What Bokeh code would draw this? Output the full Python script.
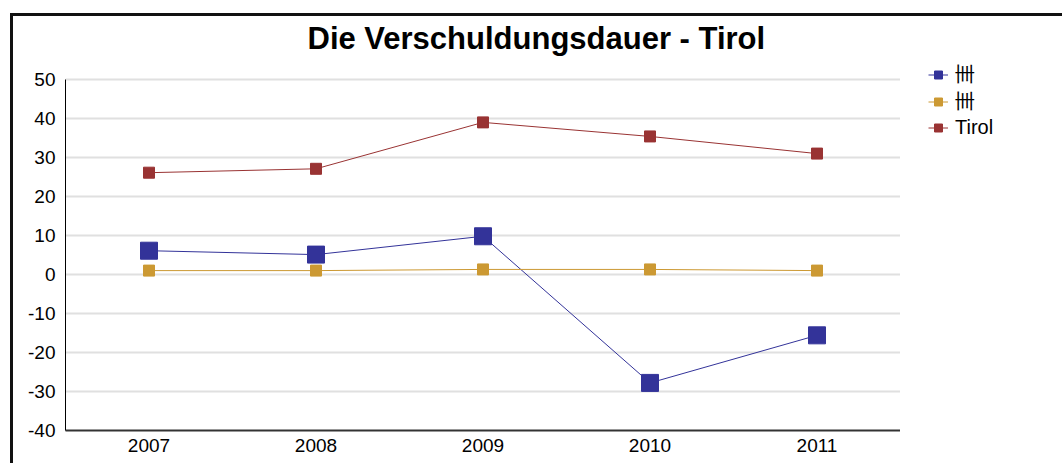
from bokeh.plotting import figure
from bokeh.layouts import row
from bokeh.models import Range1d, FactorRange, FixedTicker, Legend, LegendItem, Label
from bokeh.embed import file_html
from bokeh.resources import INLINE

years = ["2007", "2008", "2009", "2010", "2011"]
series_names = ["卌", "卌", "Tirol"]
blue_vals = [6.1, 5.1, 9.8, -27.8, -15.6]
gold_vals = [1.0, 1.0, 1.3, 1.3, 1.0]
red_vals = [26.1, 27.1, 39.0, 35.4, 31.0]
y_ticks = [-40, -30, -20, -10, 0, 10, 20, 30, 40, 50]
y_tick_labels = ["-40", "-30", "-20", "-10", "0", "10", "20", "30", "40", "50"]
title_text = "Die Verschuldungsdauer - Tirol"

colors = ["#333399", "#cc9933", "#993333"]
sizes = [17, 11, 11]
FONT = "Liberation Sans"
series = [blue_vals, gold_vals, red_vals]

p = figure(width=887, height=447, output_backend="svg", toolbar_location=None,
           x_range=FactorRange(*years, range_padding=0), y_range=Range1d(-40, 66.15),
           min_border_left=52, min_border_right=0, min_border_top=0, min_border_bottom=33)
p.outline_line_color = None
p.background_fill_color = "white"

title = Label(x=242, y=392, x_units="screen", y_units="screen", text=title_text,
              text_font=FONT, text_font_size="31px", text_font_style="bold",
              text_color="black", text_align="left", text_baseline="alphabetic")
p.add_layout(title)

for vals, c, s in zip(series, colors, sizes):
    p.line(years, vals, line_color=c, line_width=1)
    p.scatter(years, vals, marker="square", size=s, fill_color=c, line_color=c)

p.yaxis.ticker = FixedTicker(ticks=y_ticks)
p.yaxis.major_label_overrides = dict(zip(y_ticks, y_tick_labels))
p.yaxis.bounds = (-40, 50)
p.ygrid.ticker = FixedTicker(ticks=y_ticks)
p.xgrid.grid_line_color = None
p.ygrid.grid_line_color = "#e0e0e0"
p.ygrid.grid_line_width = 2

for ax in [p.xaxis, p.yaxis]:
    ax.major_tick_line_color = None
    ax.minor_tick_line_color = None
    ax.major_tick_out = 0
    ax.major_tick_in = 0
    ax.major_label_text_font = FONT
    ax.major_label_text_font_size = "19px"
    ax.major_label_text_color = "black"
    ax.axis_line_color = "black"
p.yaxis.axis_line_width = 1
p.xaxis.axis_line_width = 2
p.xaxis.axis_line_color = "#333"
p.yaxis.major_label_standoff = 10
p.xaxis.major_label_standoff = 8

# legend panel (series drawn out of view, only their legend glyphs show)
q = figure(width=162, height=447, output_backend="svg", toolbar_location=None,
           x_range=FactorRange(*years), y_range=Range1d(1000, 1001),
           x_axis_location=None, y_axis_location=None,
           min_border_left=0, min_border_right=0, min_border_top=0, min_border_bottom=0)
q.outline_line_color = None
q.xgrid.visible = False
q.ygrid.visible = False
items = []
for vals, c, name in zip(series, colors, series_names):
    l = q.line(years, vals, line_color=c, line_width=1)
    m = q.scatter(years, vals, marker="square", size=11, fill_color=c, line_color=c)
    items.append(LegendItem(label=name, renderers=[l, m]))

legend = Legend(items=items, location=(28, 290), padding=0, margin=0, spacing=-3,
                glyph_width=20, glyph_height=25, label_height=25,
                label_text_font=FONT, label_text_font_size="20px", label_standoff=7,
                label_text_color="black",
                border_line_color=None, background_fill_alpha=0)
q.add_layout(legend, "center")

layout = row(p, q)
layout.styles = {"border-left": "3px solid #111", "border-top": "3px solid #111",
                 "margin-left": "10px", "margin-top": "13px"}

open("out.html", "w").write(file_html(layout, INLINE))
